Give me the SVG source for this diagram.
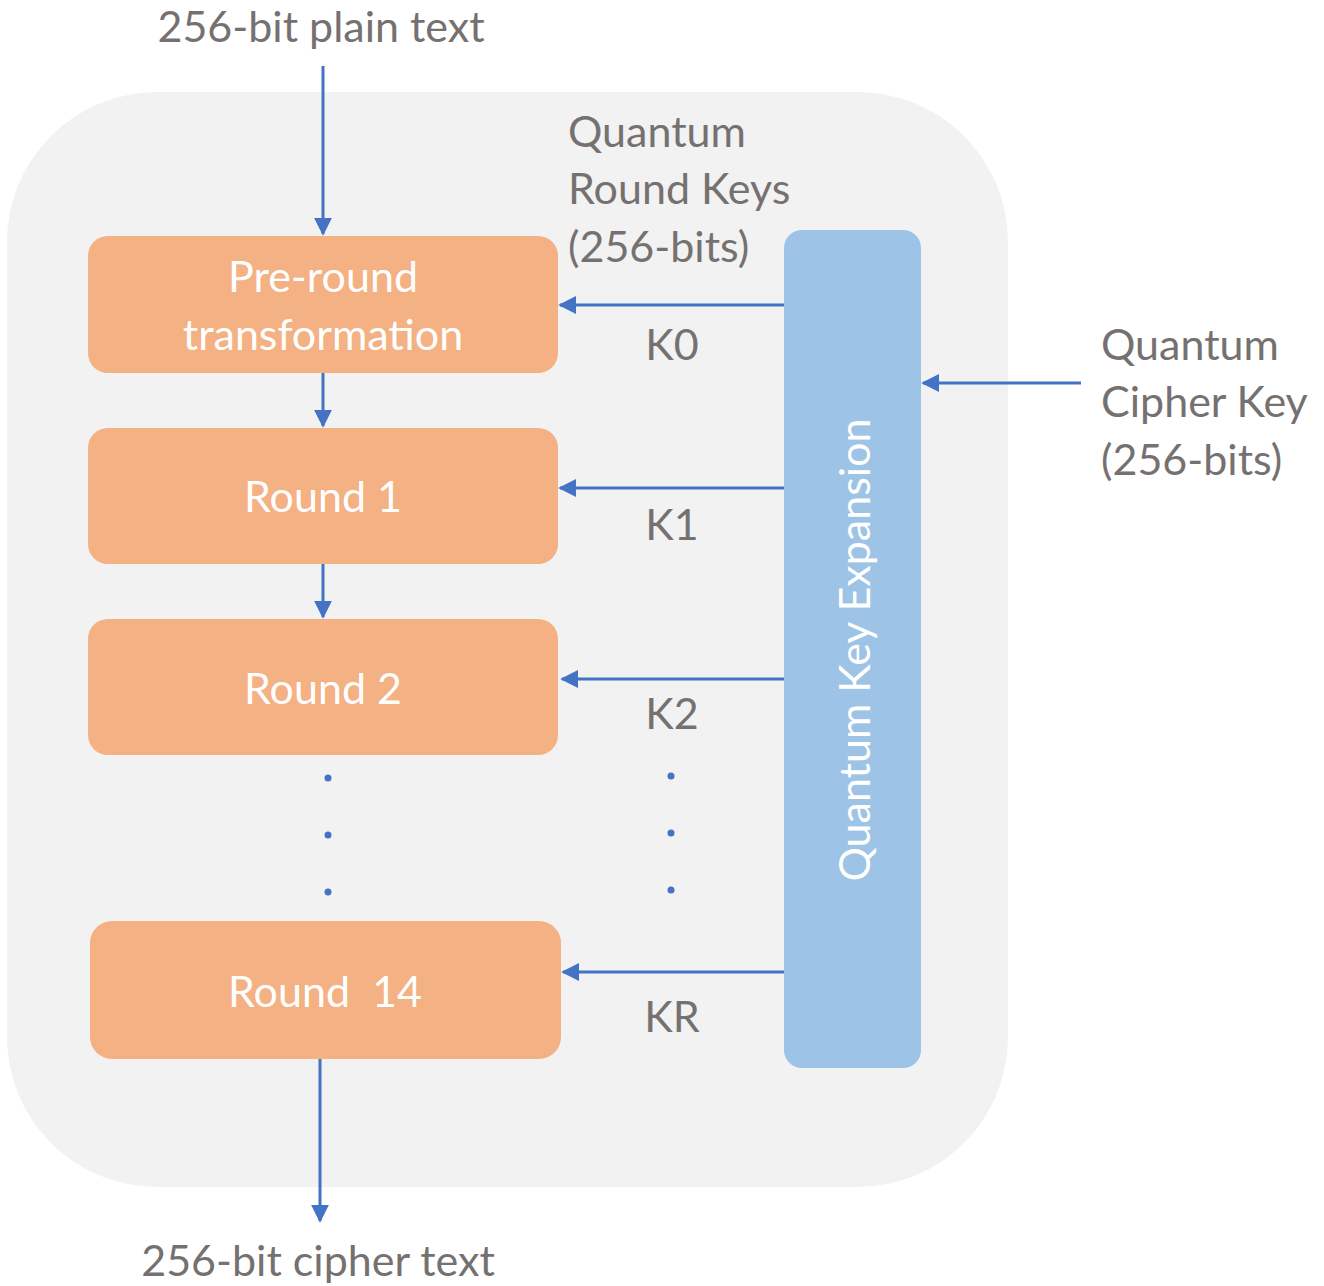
<svg xmlns="http://www.w3.org/2000/svg" width="1324" height="1286" viewBox="0 0 1324 1286">
<style>
.lbl{font-family:Lato,"Open Sans","Liberation Sans",sans-serif;font-size:43px;fill:#767171}
.box{fill:#f4b183}
.bt{font-family:Lato,"Open Sans","Liberation Sans",sans-serif;font-size:43px;fill:#ffffff;text-anchor:middle}
.ln{stroke:#4472c4;stroke-width:3;fill:none;marker-end:url(#ah)}
.dot{fill:#4472c4}
</style>
<defs>
<marker id="ah" viewBox="0 0 10 10" refX="9" refY="5" markerWidth="6" markerHeight="6" markerUnits="strokeWidth" orient="auto">
<path d="M0,0 L10,5 L0,10 z" fill="#4472c4"/>
</marker>
</defs>
<rect x="0" y="0" width="1324" height="1286" fill="#ffffff"/>
<rect id="container" x="7" y="92" width="1001" height="1095" rx="150" fill="#f2f2f2"/>
<g id="connectors">
<line class="ln" x1="323" y1="66" x2="323" y2="234"/>
<line class="ln" x1="323" y1="373" x2="323" y2="426"/>
<line class="ln" x1="323" y1="564" x2="323" y2="617"/>
<line class="ln" x1="320" y1="1059" x2="320" y2="1221"/>
<line class="ln" x1="784" y1="305" x2="560" y2="305"/>
<line class="ln" x1="784" y1="488" x2="560" y2="488"/>
<line class="ln" x1="784" y1="679" x2="562" y2="679"/>
<line class="ln" x1="784" y1="972" x2="563" y2="972"/>
<line class="ln" x1="1081" y1="383" x2="923" y2="383"/>
</g>
<g id="pre-round">
<rect class="box" x="88" y="236" width="470" height="137" rx="20"/>
<text class="bt" x="323" y="292">Pre-round</text>
<text class="bt" x="323" y="350">transformation</text>
</g>
<g id="round1">
<rect class="box" x="88" y="428" width="470" height="136" rx="20"/>
<text class="bt" x="323" y="512">Round 1</text>
</g>
<g id="round2">
<rect class="box" x="88" y="619" width="470" height="136" rx="20"/>
<text class="bt" x="323" y="704">Round 2</text>
</g>
<g id="round14">
<rect class="box" x="90" y="921" width="471" height="138" rx="22"/>
<text class="bt" x="325" y="1007" xml:space="preserve">Round  14</text>
</g>
<g id="key-expansion">
<rect x="784" y="230" width="137" height="838" rx="18" fill="#9dc3e6"/>
<text class="bt" transform="translate(870,650) rotate(-90)">Quantum Key Expansion</text>
</g>
<g id="labels">
<text class="lbl" x="321" y="42" text-anchor="middle">256-bit plain text</text>
<text class="lbl" x="318" y="1276" text-anchor="middle">256-bit cipher text</text>
<text class="lbl" x="568" y="147">Quantum</text>
<text class="lbl" x="568" y="204">Round Keys</text>
<text class="lbl" x="568" y="262">(256-bits)</text>
<text class="lbl" x="1101" y="360">Quantum</text>
<text class="lbl" x="1101" y="417">Cipher Key</text>
<text class="lbl" x="1101" y="475">(256-bits)</text>
<text class="lbl" x="672" y="360" text-anchor="middle">K0</text>
<text class="lbl" x="672" y="540" text-anchor="middle">K1</text>
<text class="lbl" x="672" y="729" text-anchor="middle">K2</text>
<text class="lbl" x="672" y="1032" text-anchor="middle">KR</text>
</g>
<g id="dots">
<circle class="dot" cx="328" cy="778" r="3.5"/>
<circle class="dot" cx="328" cy="835" r="3.5"/>
<circle class="dot" cx="328" cy="892" r="3.5"/>
<circle class="dot" cx="671" cy="776" r="3.5"/>
<circle class="dot" cx="671" cy="833" r="3.5"/>
<circle class="dot" cx="671" cy="890" r="3.5"/>
</g>
</svg>
